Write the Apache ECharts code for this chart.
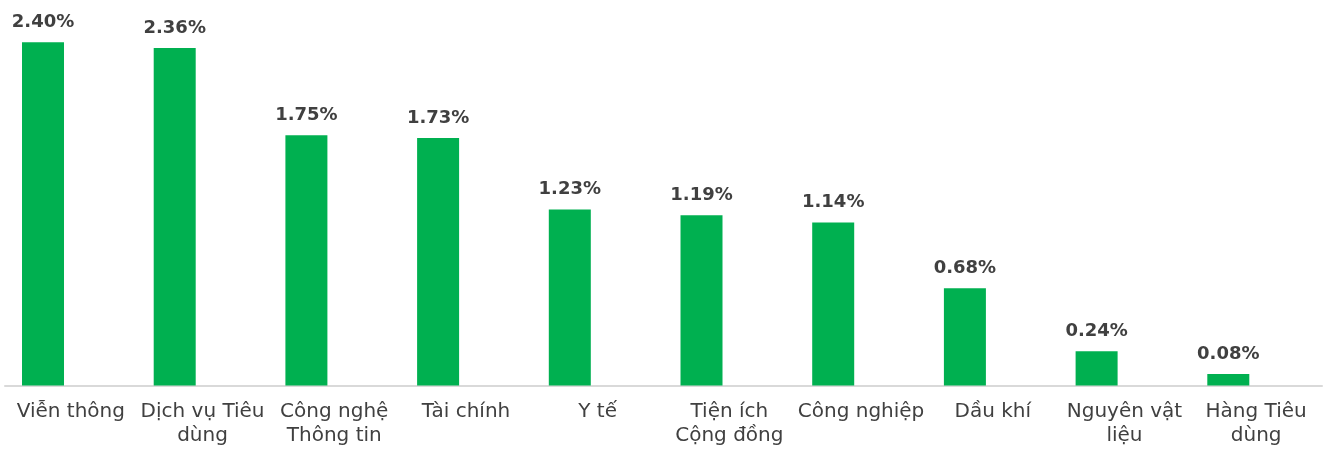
<!DOCTYPE html>
<html>
<head>
<meta charset="utf-8">
<script src="https://cdn.jsdelivr.net/npm/echarts@6/dist/echarts.min.js"></script>
<style>
  html, body { margin: 0; padding: 0; background: #fff; }
  #chart { width: 1328px; height: 449px; }
</style>
</head>
<body>
<div id="chart"></div>
<script>
// dữ liệu ngành
var categories = ['Viễn thông', 'Dịch vụ Tiêu\ndùng', 'Công nghệ\nThông tin', 'Tài chính', 'Y tế',
  'Tiện ích\nCộng đồng', 'Công nghiệp', 'Dầu khí', 'Nguyên vật\nliệu', 'Hàng Tiêu\ndùng']
var values = [2.40, 2.36, 1.75, 1.73, 1.23, 1.19, 1.14, 0.68, 0.24, 0.08]
// cột rỗng để đẩy cột xanh lệch trái như bản gốc
var spacer = [null, null, null, null, null, null, null, null, null, null]

var chart = echarts.init(document.getElementById('chart'))
var option = {
  animation: false,
  grid: {
    top: 28,
    left: 5,
    right: 6,
    bottom: 63.5
  },
  xAxis: {
    type: 'category',
    data: categories,
    axisLine: {
      lineStyle: {
        color: '#d9d9d9',
        width: 2
      }
    },
    axisTick: { show: false },
    axisLabel: {
      interval: 0,
      color: '#404040',
      fontFamily: 'DejaVu Sans',
      fontSize: 20,
      lineHeight: 24,
      margin: 14
    }
  },
  yAxis: {
    type: 'value',
    min: 0,
    max: 2.5,
    show: false,
    splitLine: { show: false }
  },
  series: [
    {
      name: 'values',
      type: 'bar',
      data: values,
      barWidth: 42,
      barGap: '32.6%',
      itemStyle: { color: '#00b050' },
      label: {
        show: true,
        position: 'top',
        distance: 11,
        color: '#404040',
        fontFamily: 'DejaVu Sans',
        fontWeight: 'bold',
        fontSize: 18,
        formatter: function (p) {
          return p.value.toFixed(2) + '%'
        }
      }
    },
    {
      name: 'spacer',
      type: 'bar',
      data: spacer,
      barWidth: 42,
      itemStyle: { color: 'transparent' }
    }
  ]
}
chart.setOption(option)
</script>
</body>
</html>
